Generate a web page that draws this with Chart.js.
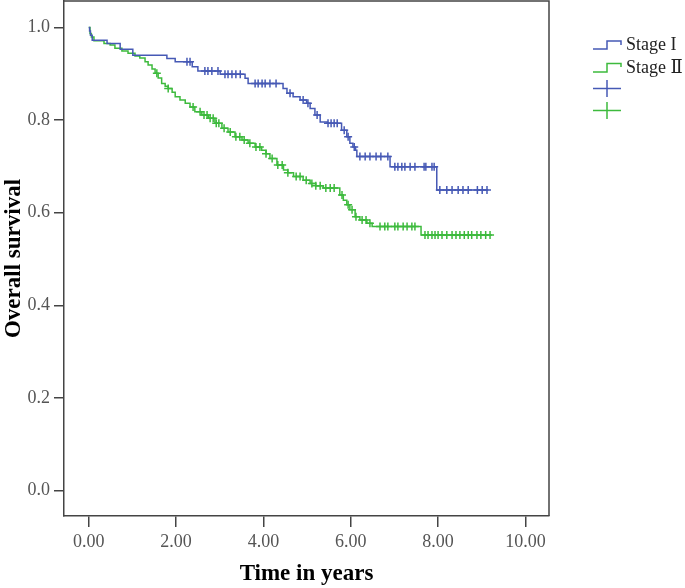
<!DOCTYPE html>
<html>
<head>
<meta charset="utf-8">
<script src="https://cdn.jsdelivr.net/npm/chart.js@4.4.1/dist/chart.umd.min.js"></script>
<style>
  html, body { margin: 0; padding: 0; background: #fff; }
  #wrap { position: relative; width: 685px; height: 588px; }
  #legend { position: absolute; left: 0; top: 0; pointer-events: none; }
  #legend text { font-family: 'Liberation Serif', 'DejaVu Serif', serif; font-size: 18px; fill: #222; }
</style>
</head>
<body>
<div id="wrap">
  <canvas id="kmChart" width="685" height="588"></canvas>
  <svg id="legend" width="685" height="588">
    <polyline points="593,49 607,49 607,41 621,41 621,45" fill="none" stroke="#4659b5" stroke-width="1.5"/>
    <text x="626" y="50">Stage I</text>
    <polyline points="593,72 607,72 607,63.5 621,63.5 621,67" fill="none" stroke="#3dba3d" stroke-width="1.5"/>
    <text x="626" y="73">Stage Ⅱ</text>
    <line x1="593" y1="88.5" x2="621" y2="88.5" stroke="#4659b5" stroke-width="1.5"/>
    <line x1="607" y1="80" x2="607" y2="97" stroke="#4659b5" stroke-width="1.5"/>
    <line x1="593" y1="110.5" x2="621" y2="110.5" stroke="#3dba3d" stroke-width="1.5"/>
    <line x1="607" y1="102" x2="607" y2="119" stroke="#3dba3d" stroke-width="1.5"/>
  </svg>
</div>
<script>
const xTickValues = [0, 2, 4, 6, 8, 10];
const yTickValues = [0, 0.2, 0.4, 0.6, 0.8, 1.0];

// Stage I: step times (years) and survival after each step
const stageITime = [0, 0.02, 0.04, 0.08, 0.42, 0.72, 1.01, 1.79, 1.98, 2.37, 2.50, 3.01, 3.58, 3.65,
    4.45, 4.54, 4.68, 4.84, 4.99, 5.07, 5.18, 5.30, 5.46, 5.79, 5.91, 5.98, 6.05, 6.11, 6.14,
    6.90, 7.97, 9.15];
const stageISurv = [1.0, 0.992, 0.983, 0.972, 0.965, 0.953, 0.940, 0.933, 0.926, 0.915, 0.906, 0.899, 0.890, 0.879,
    0.868, 0.858, 0.850, 0.843, 0.836, 0.825, 0.811, 0.796, 0.793, 0.778, 0.764, 0.750, 0.742, 0.735, 0.721,
    0.699, 0.649, 0.649];
const stageICensor = [2.25, 2.32, 2.66, 2.73, 2.82, 2.96, 3.12, 3.19, 3.28, 3.37, 3.47, 3.81, 3.88, 3.97,
    4.04, 4.15, 4.29, 4.61, 4.91, 5.02, 5.23, 5.48, 5.55, 5.62, 5.69, 5.85, 5.94, 6.08, 6.21, 6.33,
    6.44, 6.58, 6.69, 6.85, 7.01, 7.08, 7.17, 7.24, 7.36, 7.47, 7.68, 7.72, 7.86, 7.91, 8.04, 8.20,
    8.32, 8.46, 8.57, 8.69, 8.90, 9.01, 9.12];

// Stage II
const stageIITime = [0, 0.03, 0.06, 0.12, 0.35, 0.49, 0.60, 0.76, 0.90, 1.06, 1.17, 1.29, 1.36, 1.45,
    1.52, 1.59, 1.67, 1.75, 1.82, 1.91, 1.98, 2.09, 2.21, 2.32, 2.43, 2.59, 2.74, 2.89, 3.05, 3.19,
    3.35, 3.51, 3.65, 3.81, 3.96, 4.06, 4.15, 4.31, 4.46, 4.56, 4.69, 4.91, 5.07, 5.20, 5.37, 5.75,
    5.83, 5.91, 5.98, 6.10, 6.21, 6.37, 6.49, 7.61, 9.23];
const stageIISurv = [1.0, 0.987, 0.979, 0.971, 0.965, 0.962, 0.955, 0.949, 0.944, 0.938, 0.934, 0.926, 0.919, 0.910,
    0.901, 0.891, 0.879, 0.873, 0.868, 0.860, 0.850, 0.843, 0.836, 0.828, 0.818, 0.811, 0.804, 0.793, 0.782, 0.774,
    0.764, 0.757, 0.750, 0.742, 0.735, 0.727, 0.717, 0.703, 0.692, 0.686, 0.678, 0.670, 0.663, 0.658, 0.653, 0.638,
    0.627, 0.617, 0.606, 0.591, 0.584, 0.577, 0.570, 0.552, 0.552];
const stageIICensor = [1.56, 1.82, 2.39, 2.55, 2.64, 2.71, 2.78, 2.85, 2.92, 2.98, 3.10, 3.24, 3.37, 3.46,
    3.56, 3.69, 3.83, 3.92, 4.06, 4.20, 4.33, 4.43, 4.56, 4.75, 4.84, 4.98, 5.11, 5.20, 5.30, 5.43,
    5.53, 5.62, 5.80, 5.94, 6.03, 6.12, 6.26, 6.35, 6.44, 6.67, 6.78, 6.85, 7.01, 7.08, 7.20, 7.29,
    7.40, 7.47, 7.70, 7.77, 7.86, 7.93, 8.00, 8.09, 8.20, 8.32, 8.41, 8.50, 8.60, 8.69, 8.77, 8.89,
    8.98, 9.09, 9.19];

const blue = '#4659b5';
const green = '#3dba3d';

// survival value of the step curve at time t
function survivalAt(times, surv, t) {
    let s = surv[0];
    for (let i = 0; i < times.length; i++) {
        if (times[i] <= t) s = surv[i];
    }
    return s;
}

const curve = (times, surv) => times.map((t, i) => ({ x: t, y: surv[i] }));
const censors = (cens, times, surv) => cens.map(t => ({ x: t, y: survivalAt(times, surv, t) }));

const boxBorder = {
    id: 'boxBorder',
    afterDraw(chart) {
        const { ctx, chartArea: a } = chart;
        ctx.save();
        ctx.strokeStyle = '#444';
        ctx.lineWidth = 1.5;
        ctx.beginPath();
        ctx.moveTo(a.left, a.top);
        ctx.lineTo(a.right, a.top);
        ctx.lineTo(a.right, a.bottom);
        ctx.stroke();
        ctx.restore();
    }
};

Chart.defaults.font.family = "'Liberation Serif', 'Times New Roman', serif";

new Chart(document.getElementById('kmChart'), {
    type: 'line',
    data: {
        datasets: [
            {
                label: 'Stage I',
                data: curve(stageITime, stageISurv),
                borderColor: blue,
                borderWidth: 1.5,
                stepped: true,
                pointRadius: 0
            },
            {
                label: 'Stage II',
                data: curve(stageIITime, stageIISurv),
                borderColor: green,
                borderWidth: 1.5,
                stepped: true,
                pointRadius: 0
            },
            {
                label: 'Stage I censored',
                data: censors(stageICensor, stageITime, stageISurv),
                showLine: false,
                pointStyle: 'cross',
                pointRadius: 4,
                borderColor: blue,
                pointBorderWidth: 1.5
            },
            {
                label: 'Stage II censored',
                data: censors(stageIICensor, stageIITime, stageIISurv),
                showLine: false,
                pointStyle: 'cross',
                pointRadius: 4,
                borderColor: green,
                pointBorderWidth: 1.5
            }
        ]
    },
    options: {
        responsive: false,
        animation: false,
        devicePixelRatio: 1,
        layout: { autoPadding: false, padding: { top: 1, right: 136, left: 0, bottom: 0 } },
        plugins: { legend: { display: false }, tooltip: { enabled: false } },
        scales: {
            x: {
                type: 'linear',
                min: -0.566,
                max: 10.54,
                afterBuildTicks: axis => { axis.ticks = xTickValues.map(v => ({ value: v })); },
                afterFit: axis => { axis.height = 72; axis.paddingLeft = 0; axis.paddingRight = 0; },
                ticks: {
                    callback: v => v.toFixed(2),
                    color: '#555',
                    font: { size: 18 },
                    padding: 4,
                    maxRotation: 0
                },
                grid: { drawOnChartArea: false, tickLength: 11, tickColor: '#444', lineWidth: 1.5 },
                border: { color: '#444', width: 1.5 },
                title: {
                    display: true,
                    text: 'Time in years',
                    color: '#000',
                    font: { size: 23, weight: 'bold' },
                    padding: { top: 0, bottom: 0 }
                }
            },
            y: {
                min: -0.055,
                max: 1.057,
                afterBuildTicks: axis => { axis.ticks = yTickValues.map(v => ({ value: v })); },
                afterFit: axis => { axis.width = 64; axis.paddingTop = 0; axis.paddingBottom = 0; },
                ticks: {
                    callback: v => v.toFixed(1),
                    color: '#555',
                    font: { size: 18 },
                    padding: 4
                },
                grid: { drawOnChartArea: false, tickLength: 10, tickColor: '#444', lineWidth: 1.5 },
                border: { color: '#444', width: 1.5 },
                title: {
                    display: true,
                    text: 'Overall survival',
                    color: '#000',
                    font: { size: 23, weight: 'bold' },
                    padding: { top: 0, bottom: 0 }
                }
            }
        }
    },
    plugins: [boxBorder]
});
</script>
</body>
</html>
